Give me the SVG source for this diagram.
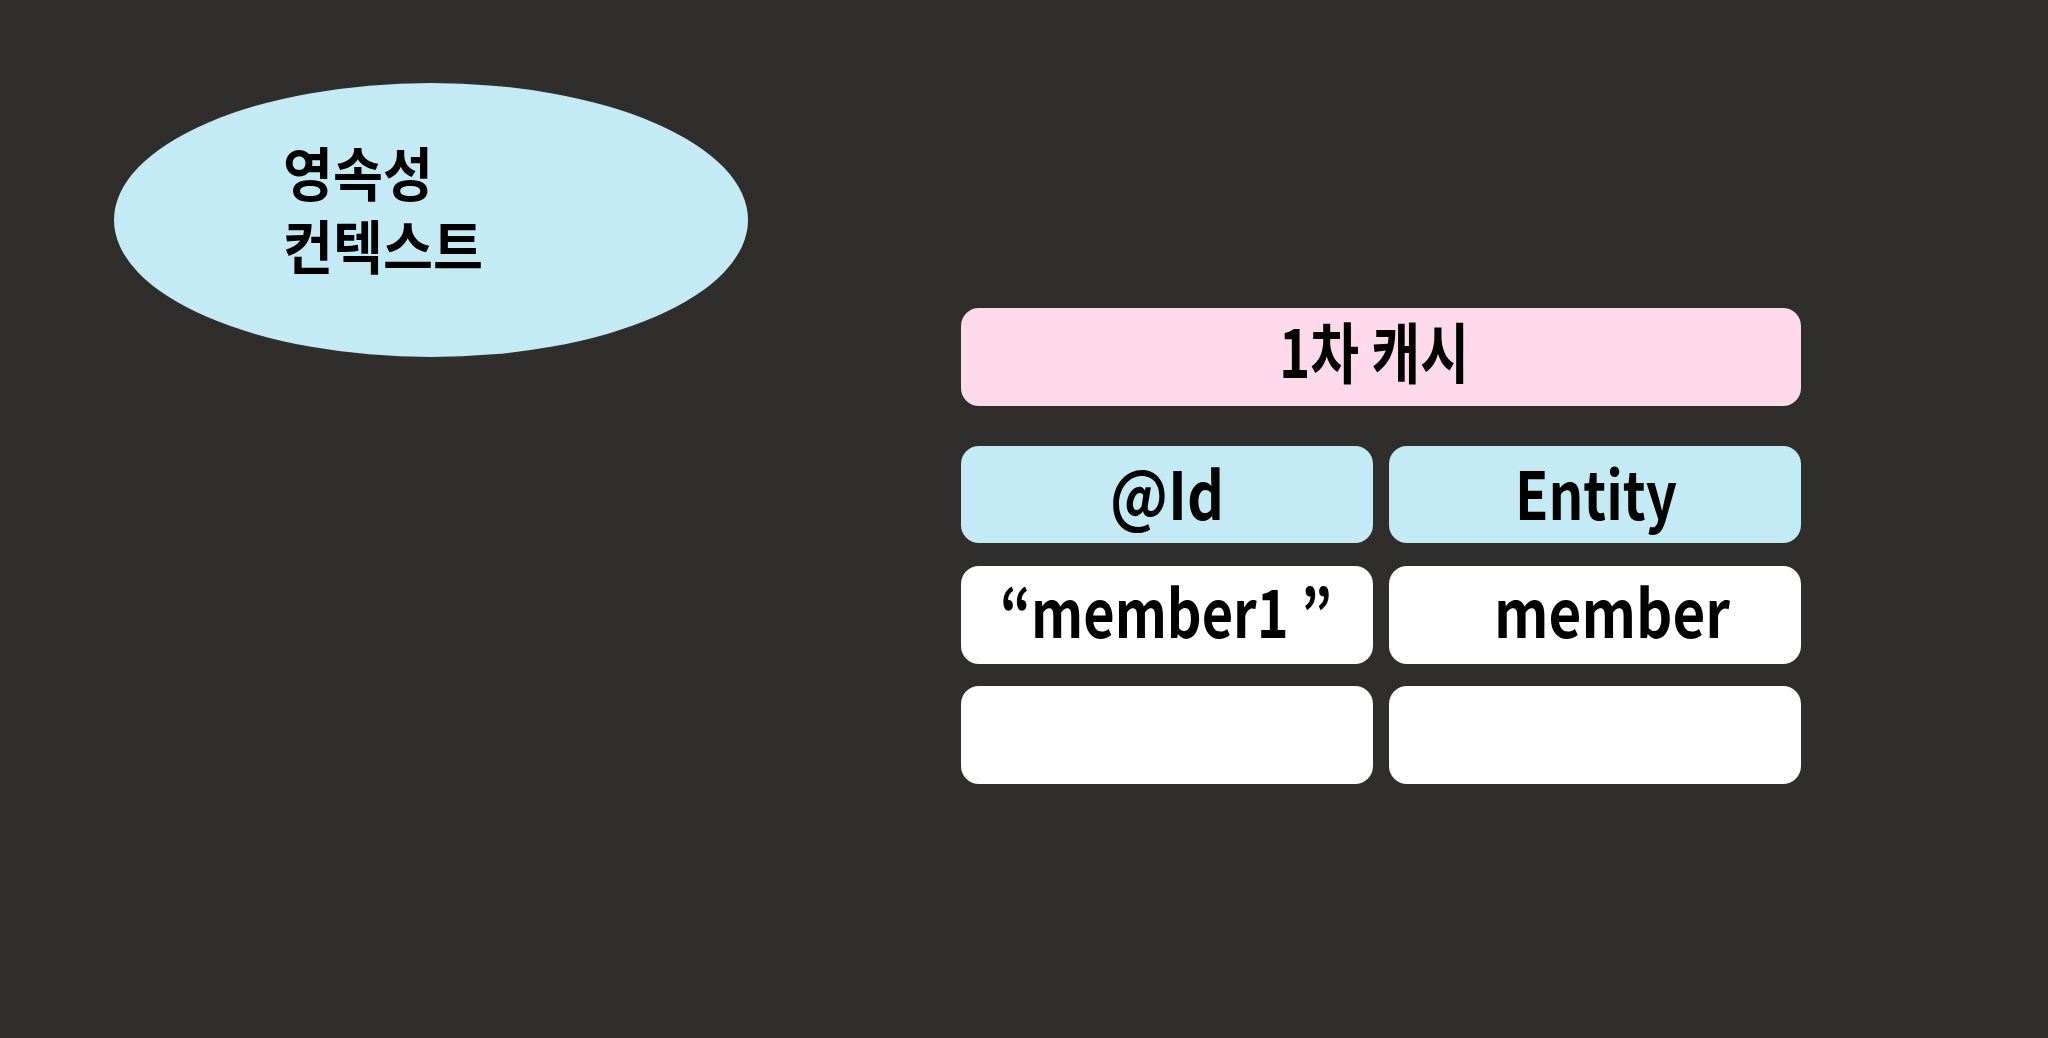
<svg xmlns="http://www.w3.org/2000/svg" width="2048" height="1038" viewBox="0 0 2048 1038">
<style>
.t{font-family:"Noto Sans CJK KR","Noto Sans",sans-serif;font-weight:700;fill:#000}
.k{font-size:58px}
.l{font-size:66px;text-anchor:middle}
.blue{fill:#C4EBF5}
.pink{fill:#FFDAEB}
.white{fill:#FFFFFF}
</style>
<rect x="0" y="0" width="2048" height="1038" fill="#2F2E2C"/>
<g id="context">
<ellipse class="blue" cx="431" cy="220" rx="317" ry="137"/>
<text class="t k" x="283" y="196" textLength="150" lengthAdjust="spacingAndGlyphs">영속성</text>
<text class="t k" x="283" y="269" textLength="200" lengthAdjust="spacingAndGlyphs">컨텍스트</text>
</g>
<g id="cache-title">
<rect class="pink" x="961" y="308" width="840" height="98" rx="18"/>
<text class="t l" x="1374" y="378" font-size="60" textLength="190" lengthAdjust="spacingAndGlyphs">1차 캐시</text>
</g>
<g id="header-id">
<rect class="blue" x="961" y="446" width="412" height="97" rx="18"/>
<text class="t l" x="1167" y="520" textLength="114" lengthAdjust="spacingAndGlyphs">@Id</text>
</g>
<g id="header-entity">
<rect class="blue" x="1389" y="446" width="412" height="97" rx="18"/>
<text class="t l" x="1596" y="520" textLength="162" lengthAdjust="spacingAndGlyphs">Entity</text>
</g>
<g id="row1-id">
<rect class="white" x="961" y="566" width="412" height="98" rx="18"/>
<text class="t l" x="1166" y="638" textLength="332" lengthAdjust="spacingAndGlyphs">“member1 ”</text>
</g>
<g id="row1-entity">
<rect class="white" x="1389" y="566" width="412" height="98" rx="18"/>
<text class="t l" x="1612" y="638" textLength="236" lengthAdjust="spacingAndGlyphs">member</text>
</g>
<g id="row2-id">
<rect class="white" x="961" y="686" width="412" height="98" rx="18"/>
</g>
<g id="row2-entity">
<rect class="white" x="1389" y="686" width="412" height="98" rx="18"/>
</g>
<g id="connectors"></g>
</svg>
